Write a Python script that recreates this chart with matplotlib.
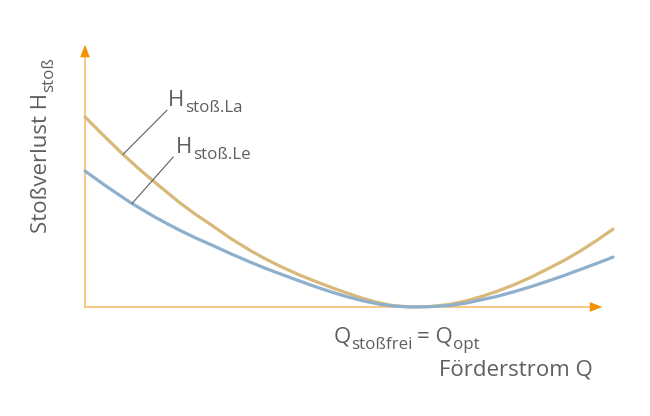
import matplotlib
matplotlib.use('Agg')
import matplotlib.pyplot as plt

plt.rcParams['font.family'] = ['Open Sans', 'DejaVu Sans']

# Förderstrom Q (relative Einheiten) und Stoßverluste
q_la = [0, 0.36, 0.72, 1.0, 1.27, 1.55, 1.80, 2.10, 2.42, 2.78, 3.13, 3.41, 3.69, 4.04, 4.39,
        4.68, 4.96, 5.21, 5.50, 5.78, 6.02, 6.25, 6.55, 6.91, 7.20, 7.48, 7.80, 8.11, 8.43,
        8.75, 9.07, 9.38, 9.69, 10.0]
h_la = [7.20, 6.48, 5.78, 5.27, 4.81, 4.35, 3.94, 3.50, 3.07, 2.57, 2.14, 1.83, 1.55, 1.23, 0.95,
        0.73, 0.53, 0.36, 0.19, 0.07, 0.02, 0.0, 0.02, 0.10, 0.22, 0.38, 0.59, 0.83, 1.11,
        1.43, 1.76, 2.12, 2.52, 2.95]

q_le = [0, 0.42, 0.85, 1.10, 1.33, 1.57, 1.80, 2.10, 2.42, 2.78, 3.13, 3.41, 3.69, 4.04, 4.39,
        4.68, 4.96, 5.27, 5.59, 5.88, 6.16, 6.52, 6.91, 7.20, 7.48, 7.80, 8.11, 8.43, 8.75,
        9.07, 9.38, 9.69, 10.0]
h_le = [5.15, 4.55, 3.97, 3.67, 3.40, 3.14, 2.90, 2.61, 2.33, 2.00, 1.70, 1.47, 1.26, 1.00, 0.75,
        0.56, 0.39, 0.23, 0.10, 0.03, 0.0, 0.01, 0.06, 0.14, 0.26, 0.40, 0.57, 0.76, 0.97,
        1.19, 1.42, 1.65, 1.89]

farbe_la = '#D9B97A'
farbe_le = '#8EB0CC'
achse = '#FAC47A'
pfeil = '#F39200'
grau = '#5f5f5f'
gr = 16


def index(t, s):
    '''tiefgestellter Index hinter dem Text t'''
    return ax.annotate(s, xy=(1, 0), xycoords=t, xytext=(0.5, -3.5), textcoords='offset points',
                       fontsize=gr * 0.76, color=grau, ha='left', va='bottom')


def weiter(t, s, dx=3):
    '''normaler Text hinter einem Index'''
    return ax.annotate(s, xy=(1, 0), xycoords=t, xytext=(dx, 3.5), textcoords='offset points',
                       fontsize=gr, color=grau, ha='left', va='bottom')


fig = plt.figure(figsize=(6.5, 4.16), dpi=100)
ax = fig.add_axes([0, 0, 1, 1])
ax.set_xlim(-1.61, 10.70)
ax.set_ylim(-4.13, 11.63)
ax.axis('off')

# Achsen mit Pfeilen
ax.plot([0, 0], [0, 9.6], color=achse, lw=1.3, zorder=1)
ax.plot([0, 9.6], [0, 0], color=achse, lw=1.3, zorder=1)
ax.annotate('', xy=(0, 10.04), xytext=(0, 9.3),
            arrowprops=dict(arrowstyle='-|>,head_length=0.9,head_width=0.35', color=pfeil, lw=0))
ax.annotate('', xy=(9.85, 0), xytext=(9.2, 0),
            arrowprops=dict(arrowstyle='-|>,head_length=0.9,head_width=0.35', color=pfeil, lw=0))

# Kurven
ax.plot(q_la, h_la, color=farbe_la, lw=2.3, solid_capstyle='round', solid_joinstyle='round', zorder=3)
ax.plot(q_le, h_le, color=farbe_le, lw=2.3, solid_capstyle='round', solid_joinstyle='round', zorder=4)

# Beschriftungslinien
ax.plot([0.72, 1.55], [5.78, 7.45], color=grau, lw=0.8, zorder=5)
ax.plot([0.89, 1.67], [3.92, 5.68], color=grau, lw=0.8, zorder=5)

t = ax.text(1.57, 7.42, 'H', fontsize=gr, color=grau, va='bottom', ha='left')
index(t, 'stoß.La')
t = ax.text(1.72, 5.65, 'H', fontsize=gr, color=grau, va='bottom', ha='left')
index(t, 'stoß.Le')

# y-Achsentitel (gedreht)
ty = ax.text(-0.82, 2.8, 'Stoßverlust H', fontsize=gr, color=grau, rotation=90, ha='center', va='bottom')
ax.annotate('stoß', xy=(1, 1), xycoords=ty, xytext=(3.5, 0.5), textcoords='offset points',
            fontsize=gr * 0.76, color=grau, rotation=90, ha='right', va='bottom')

# x-Achse
tq = ax.text(4.70, -1.55, 'Q', fontsize=gr, color=grau, va='bottom', ha='left')
s1 = index(tq, 'stoßfrei')
t2 = weiter(s1, '= Q', dx=3)
index(t2, 'opt')
ax.text(6.70, -2.40, 'Förderstrom Q', fontsize=gr, color=grau, ha='left', va='center')

fig.savefig('out.png', dpi=100)
